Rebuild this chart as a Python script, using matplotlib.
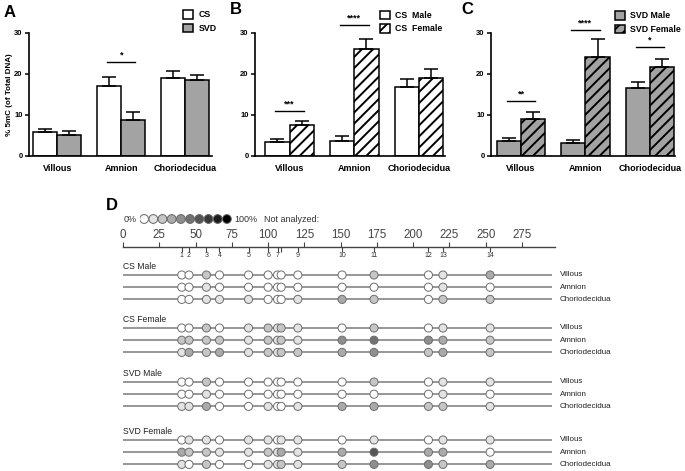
import matplotlib
matplotlib.use("Agg")
import matplotlib.pyplot as plt
import numpy as np

plt.rcParams['font.family'] = ['Liberation Sans', 'DejaVu Sans']
plt.rcParams['hatch.linewidth'] = 1.4

W, H = 685, 471

tissues = ["Villous", "Amnion", "Choriodecidua"]

# --- panel A: CS vs SVD ---
cs_mean = [5.8, 17.1, 19.0]
cs_sem = [0.7, 2.2, 1.6]
svd_mean = [5.2, 8.7, 18.4]
svd_sem = [0.9, 1.9, 1.2]

# --- panel B: CS by sex ---
cs_male_mean = [3.4, 3.7, 16.7]
cs_male_sem = [0.8, 1.2, 2.0]
cs_female_mean = [7.6, 26.0, 18.9]
cs_female_sem = [0.8, 2.5, 2.2]

# --- panel C: SVD by sex ---
svd_male_mean = [3.6, 3.1, 16.6]
svd_male_sem = [0.8, 0.8, 1.4]
svd_female_mean = [8.9, 24.1, 21.6]
svd_female_sem = [1.8, 4.3, 2.1]

# significance bars: (tissue index, height, stars)
sig_a = [(1, 22.9, "*")]
sig_b = [(0, 10.9, "***"), (1, 31.9, "****")]
sig_c = [(0, 13.5, "**"), (1, 30.7, "****"), (2, 26.4, "*")]

# --- panel D: CpG methylation map ---
cpg_pos = [40.5, 45.5, 57.5, 66.5, 86.5, 100, 106.5, 109, 120.5, 151, 173, 210.5, 220.5, 253]
cpg_labels = ["1", "2", "3", "4", "5", "6", "7", "", "9", "10", "11", "12", "13", "14"]
ruler_ticks = list(range(0, 300, 25))
seq_len = 296
groups = ["CS Male", "CS Female", "SVD Male", "SVD Female"]
# methylation level per site, 0 (0%) .. 9 (100%); rows: Villous, Amnion, Choriodecidua
cs_male_lv = [[0, 0, 2, 0, 0, 0, 0, 0, 0, 0, 2, 0, 1, 3],
              [0, 0, 1, 0, 0, 0, 0, 0, 0, 0, 0, 0, 1, 0],
              [0, 0, 1, 1, 1, 0, 0, 0, 1, 3, 2, 0, 2, 2]]
cs_female_lv = [[0, 0, 2, 0, 1, 2, 1, 2, 1, 0, 2, 0, 1, 1],
                [2, 2, 2, 2, 1, 2, 1, 2, 1, 4, 5, 4, 3, 2],
                [1, 3, 2, 3, 1, 2, 1, 2, 2, 3, 4, 2, 3, 2]]
svd_male_lv = [[0, 0, 2, 0, 0, 0, 0, 0, 0, 0, 2, 0, 1, 1],
               [0, 0, 1, 0, 0, 0, 0, 0, 0, 0, 0, 0, 1, 0],
               [1, 1, 3, 0, 0, 1, 0, 0, 1, 3, 3, 2, 2, 1]]
svd_female_lv = [[0, 1, 1, 0, 1, 1, 0, 1, 1, 0, 1, 0, 1, 1],
                 [3, 2, 2, 1, 1, 2, 1, 3, 1, 3, 6, 3, 3, 0],
                 [1, 0, 2, 0, 0, 1, 1, 2, 1, 2, 4, 4, 2, 3]]
levels = list(range(10))


def px_rect(x0, y0, x1, y1):
    return [x0 / W, 1 - y1 / H, (x1 - x0) / W, (y1 - y0) / H]


def shade(lv):
    g = 1 - lv / 9
    return (g, g, g)


fig = plt.figure(figsize=(W / 100, H / 100), dpi=100)


def bar_panel(rect, xlim, m1, e1, m2, e2, c1, c2, hatch2, labels, sig, leg_xy, letter, letter_xy):
    ax = fig.add_axes(px_rect(*rect))
    x = np.arange(3)
    w = 0.375
    ax.bar(x - w / 2, m1, w, color=c1, edgecolor="black", lw=1.1, label=labels[0])
    ax.bar(x + w / 2, m2, w, color=c2, edgecolor="black", lw=1.1, hatch=hatch2, label=labels[1])
    for xx, m, e in [(x - w / 2, m1, e1), (x + w / 2, m2, e2)]:
        ax.errorbar(xx, m, yerr=[np.zeros(3), e], fmt="none", ecolor="black",
                    elinewidth=1.1, capsize=5, capthick=1.1)
    for i, yy, s in sig:
        ax.plot([i - 0.22, i + 0.22], [yy, yy], color="black", lw=1, clip_on=False)
        ax.text(i, yy + 0.6, s, ha="center", va="bottom", fontsize=6.5, fontweight="bold",
                clip_on=False)
    ax.set_xlim(*xlim)
    ax.set_ylim(0, 30)
    ax.set_yticks([0, 10, 20, 30])
    ax.set_xticks(x, tissues)
    for lbl in ax.get_xticklabels() + ax.get_yticklabels():
        lbl.set_fontweight("bold")
    ax.tick_params(axis="x", length=0, pad=6, labelsize=6.5)
    ax.tick_params(axis="y", length=3, width=1.1, pad=1.5, labelsize=5.5)
    for sp in ["top", "right"]:
        ax.spines[sp].set_visible(False)
    for sp in ["left", "bottom"]:
        ax.spines[sp].set_linewidth(1.2)
    ax.legend(loc="upper left", bbox_to_anchor=(leg_xy[0] / W, 1 - leg_xy[1] / H),
              bbox_transform=fig.transFigure, frameon=False,
              prop={"weight": "bold", "size": 6.3}, handlelength=1.15, handleheight=1.15,
              handletextpad=0.6, labelspacing=0.5, borderpad=0, borderaxespad=0)
    fig.text(letter_xy[0] / W, 1 - letter_xy[1] / H, letter, fontsize=12,
             fontweight="bold", ha="left", va="top")
    return ax


axA = bar_panel((29, 32.7, 212, 156), (-0.445, 2.42), cs_mean, cs_sem, svd_mean, svd_sem,
                "white", "#a3a3a3", None, ["CS", "SVD"], sig_a, (183, 10), "A", (4, 5))
axA.set_ylabel("% 5mC (of Total DNA)", fontsize=5.8, fontweight="bold", labelpad=1)

bar_panel((255, 32.7, 445, 156), (-0.533, 2.40), cs_male_mean, cs_male_sem,
          cs_female_mean, cs_female_sem, "white", "white", "///",
          ["CS  Male", "CS  Female"], sig_b, (380, 10.5), "B", (230, 2))
bar_panel((491, 32.7, 675, 156), (-0.465, 2.39), svd_male_mean, svd_male_sem,
          svd_female_mean, svd_female_sem, "#a3a3a3", "#a3a3a3", "///",
          ["SVD Male", "SVD Female"], sig_c, (615, 11), "C", (461, 2))

# --- panel D ---
fig.text(106 / W, 1 - 198 / H, "D", fontsize=12, fontweight="bold", ha="left", va="top")

x_lo = (100 - 123) / 1.451
x_hi = (685 - 123) / 1.451

# legend scale
axL = fig.add_axes(px_rect(139.5, 213, 231.5, 225))
axL.scatter(levels, np.zeros(len(levels)), s=40, c=[shade(l) for l in levels],
            edgecolors="#666666", linewidths=0.7, zorder=3)
axL.set_xlim(-0.5, 9.5)
axL.set_ylim(-1, 1)
axL.axis("off")
axL.text(-0.75, 0, "0%", ha="right", va="center", fontsize=6.5, color="#333333")
axL.text(9.8, 0, "100%", ha="left", va="center", fontsize=6.5, color="#333333")
axL.text(13.0, 0, "Not analyzed:", ha="left", va="center", fontsize=6.5, color="#333333")

# ruler
axR = fig.add_axes(px_rect(100, 246.5, 685, 246.7))
axR.set_xlim(x_lo, x_hi)
axR.set_yticks([])
for sp in ["left", "right", "bottom"]:
    axR.spines[sp].set_visible(False)
axR.spines["top"].set_bounds(0, 298)
axR.spines["top"].set_color("#444444")
axR.spines["top"].set_linewidth(1)
axR.xaxis.remove_overlapping_locs = False
axR.set_xticks(ruler_ticks)
axR.set_xticks(cpg_pos, minor=True)
axR.set_xticklabels(cpg_labels, minor=True)
axR.tick_params(which="major", top=True, bottom=False, labeltop=True, labelbottom=False,
                length=3.5, width=0.8, pad=0.5, labelsize=8.3, color="#444444",
                labelcolor="#444444")
axR.tick_params(which="minor", top=False, bottom=True, labeltop=False, labelbottom=True,
                length=3.5, width=0.8, pad=0.5, labelsize=5, color="#444444",
                labelcolor="#333333")

# methylation rows
axD = fig.add_axes(px_rect(100, 258, 685, 471))
axD.set_xlim(x_lo, x_hi)
axD.set_ylim(471, 258)
axD.axis("off")
group_top = [275, 328, 382, 440]
row_step = 12.2
for g, name, lv in zip(group_top, groups, [cs_male_lv, cs_female_lv, svd_male_lv, svd_female_lv]):
    axD.text(0, g - 8, name, ha="left", va="center", fontsize=6.2, color="#222222")
    for r, (tissue, row) in enumerate(zip(tissues, lv)):
        y = g + r * row_step
        axD.hlines(y, 0, seq_len, color="#7a7a7a", lw=1.1, zorder=1)
        axD.scatter(cpg_pos, [y] * len(cpg_pos), s=34, c=[shade(v) for v in row],
                    edgecolors="#6e6e6e", linewidths=0.7, zorder=3)
        axD.text(301, y, tissue, ha="left", va="center", fontsize=5.8, color="#222222")

fig.savefig("out.png", dpi=100)
